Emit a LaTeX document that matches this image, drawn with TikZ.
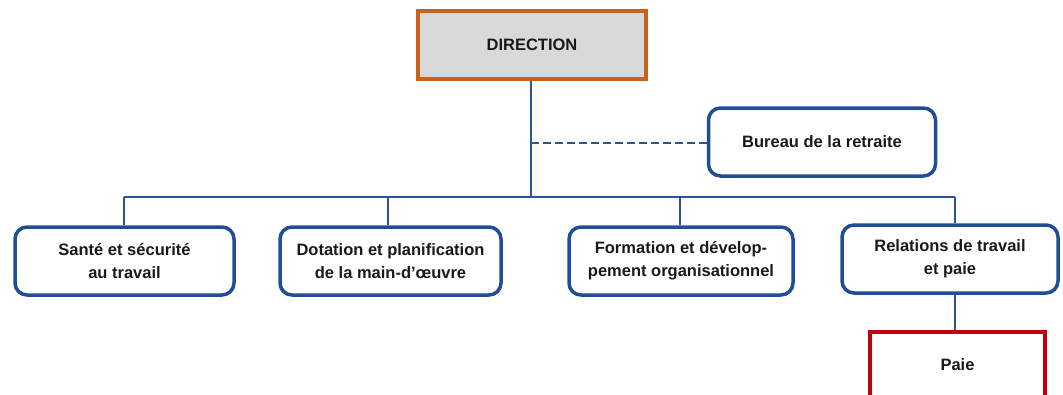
\documentclass[tikz,border=0pt]{standalone}
\usepackage{fontspec}
\usetikzlibrary{backgrounds}
\newfontfamily\labfont{Liberation Sans Bold}
\definecolor{lineblue}{HTML}{2A5596}
\definecolor{boxblue}{HTML}{1F4E96}
\definecolor{dirorange}{HTML}{C8611E}
\definecolor{dirgray}{HTML}{D9D9D9}
\definecolor{paiered}{HTML}{C00010}
\tikzset{
  txt/.style={font=\labfont\fontsize{16.5}{23}\selectfont, align=center, text=black!90},
  unit/.style={txt, draw=boxblue, line width=3.5pt, rounded corners=12pt, fill=white,
               minimum height=68pt, inner sep=0pt},
  dirbox/.style={txt, draw=dirorange, fill=dirgray, line width=3.5pt, minimum width=228pt, minimum height=68pt},
  paiebox/.style={txt, draw=paiered, fill=white, line width=4.5pt, minimum width=175pt, minimum height=66pt},
  conn/.style={draw=lineblue, line width=2pt},
  dashconn/.style={draw=lineblue, line width=2pt, dash pattern=on 8pt off 4pt},
}
\begin{document}
\begin{tikzpicture}[x=1pt,y=-1pt]
\useasboundingbox (0,0) rectangle (1063,394);
\clip (0,0) rectangle (1063,394);
% nodes
\node[dirbox] (dir) at (532,45) {DIRECTION};
\node[unit, minimum width=227pt, minimum height=68pt] (bur) at (822,142) {Bureau de la retraite};
\node[unit, minimum width=219pt] (sst) at (124.5,261) {Santé et sécurité\\au travail};
\node[unit, minimum width=221pt] (dot) at (390.5,261) {Dotation et planification\\de la main-d’œuvre};
\node[unit, minimum width=224pt] (form) at (681,261) {Formation et dévelop-\\pement organisationnel};
\node[unit, minimum width=216pt] (rel) at (950,259) {Relations de travail\\et paie};
\node[paiebox] (paie) at (957.5,365) {Paie};
% connectors
\coordinate (bus) at (531,197);
\coordinate (busL) at (124,197);
\coordinate (busR) at (955,197);
\coordinate (busD) at (388,197);
\coordinate (busF) at (680,197);
\coordinate (dash) at (531,143);
\begin{scope}[on background layer]
\draw[conn] (dir.south -| bus) -- (bus);
\draw[conn] (busL) -- (busR);
\draw[conn] (busL) -- (busL |- sst.north);
\draw[conn] (busD) -- (busD |- dot.north);
\draw[conn] (busF) -- (busF |- form.north);
\draw[conn] (busR) -- (busR |- rel.north);
\draw[dashconn] (dash) -- (bur.west |- dash);
\draw[conn] (rel.south -| busR) -- (paie.north -| busR);
\end{scope}
\end{tikzpicture}
\end{document}
